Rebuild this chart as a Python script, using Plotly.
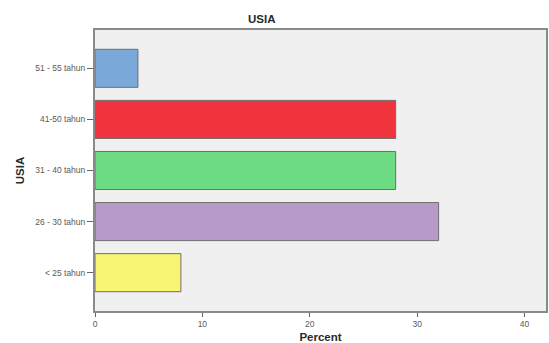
import plotly.graph_objects as go

# Age groups (bottom to top) and their share of respondents in percent
categories = ["< 25 tahun", "26 - 30 tahun", "31 - 40 tahun", "41-50 tahun", "51 - 55 tahun"]
percent = [8, 32, 28, 28, 4]
bar_colors = ["#F8F474", "#B79AC9", "#6CDB84", "#EF343D", "#7AA8D8"]
x_ticks = [0, 10, 20, 30, 40]

fig = go.Figure(
    go.Bar(
        x=percent,
        y=categories,
        orientation="h",
        marker=dict(color=bar_colors, line=dict(color="#6E6E6E", width=1)),
        width=0.745,
        hoverinfo="x+y",
    )
)

font_family = "Liberation Sans, Arial, sans-serif"
tick_font = dict(size=8.5, color="#5A5A5A", family=font_family)
title_font = dict(size=11.5, color="#2A2A2A", family=font_family)

fig.update_layout(
    width=549,
    height=343,
    margin=dict(l=95, r=1, t=30, b=31),
    paper_bgcolor="white",
    plot_bgcolor="#F0F0F0",
    showlegend=False,
    font=dict(family=font_family, color="#333333", size=9),
    annotations=[
        dict(text="<b>USIA</b>", x=(262 - 95) / (549 - 95 - 1), y=1 + 11 / (343 - 30 - 31),
             xref="paper", yref="paper", xanchor="center", yanchor="middle",
             showarrow=False, font=title_font),
    ],
)

fig.update_xaxes(
    range=[0, 42],
    tickvals=x_ticks,
    ticks="outside",
    ticklen=4,
    tickcolor="#666666",
    tickfont=tick_font,
    showgrid=False,
    zeroline=False,
    showline=True,
    linecolor="#8A8A8A",
    linewidth=2,
    mirror=True,
    title=dict(text="<b>Percent</b>", font=title_font, standoff=5),
)
fig.update_yaxes(
    type="category",
    categoryorder="array",
    categoryarray=categories,
    range=[-0.75, 4.75],
    ticks="outside",
    ticklen=6,
    tickcolor="#666666",
    tickfont=tick_font,
    showgrid=False,
    zeroline=False,
    showline=True,
    linecolor="#8A8A8A",
    linewidth=2,
    mirror=True,
    title=dict(text="<b>USIA</b>", font=title_font, standoff=8),
)

fig.write_html("out.html")
